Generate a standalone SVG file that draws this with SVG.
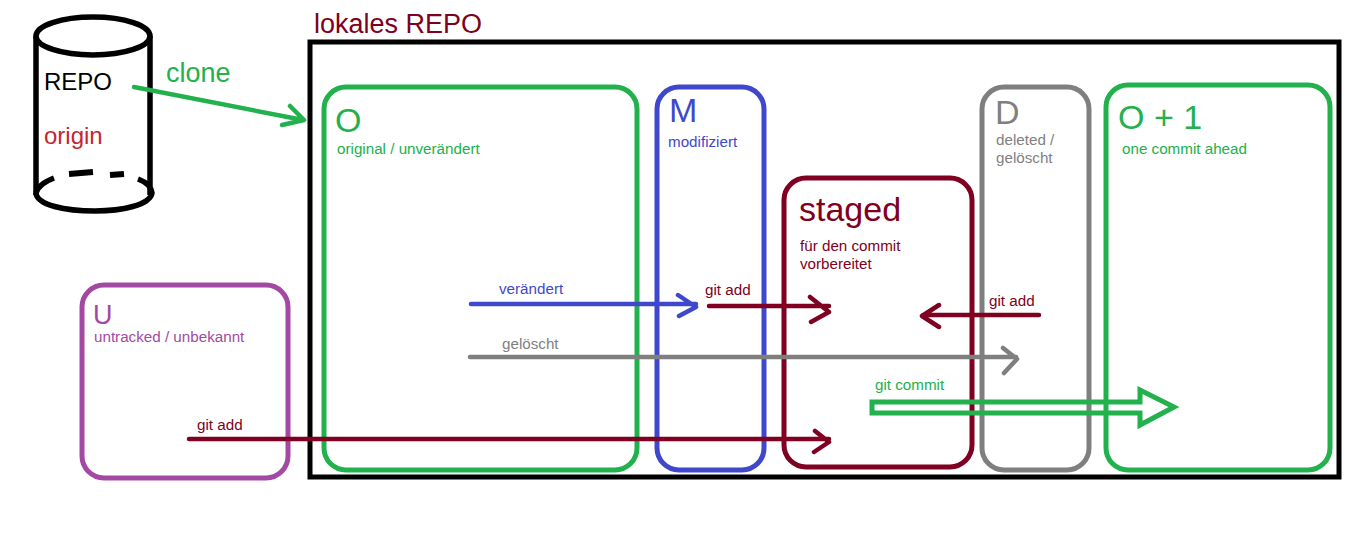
<svg xmlns="http://www.w3.org/2000/svg" width="1351" height="545" viewBox="0 0 1351 545">
<style>
text{font-family:"Liberation Sans",Arial,sans-serif}
.b{fill:none;stroke-width:5}
.c{fill:none;stroke-width:4.5;stroke-linecap:round;stroke-linejoin:round}
.g{fill:#22b14c}
.bl{fill:#3f48cc}
.r{fill:#7f0020}
.gr{fill:#7f7f7f}
.big{font-size:34px}
.s{font-size:15.2px}
</style>
<rect width="1351" height="545" fill="#fff"/>
<g id="repo-origin">
<g fill="none" stroke="#000" stroke-width="5.5">
<ellipse cx="93" cy="36" rx="57" ry="19"/>
<path d="M36 36V195M150 36V195"/>
<path d="M36 193C38 186 46 181 54 178M138 179C146 182 151 186 152 193C150 205 122 211 95 211C65 211 37 205 36 193"/>
<path d="M69 174L93 172M110 175L124 174" stroke-width="6"/>
</g>
<text x="44" y="90" font-size="24" fill="#000">REPO</text>
<text x="44" y="144" font-size="24" fill="#c4262e">origin</text>
</g>
<g id="local-repo">
<rect x="310" y="42" width="1029" height="435" fill="none" stroke="#000" stroke-width="5"/>
<text x="314" y="33" font-size="27" class="r">lokales REPO</text>
</g>
<g id="node-o">
<rect x="324" y="87" width="313" height="383" rx="22" class="b" stroke="#22b14c"/>
<text x="335" y="132" class="big g">O</text>
<text x="337" y="154" class="s g">original / unverändert</text>
</g>
<g id="node-m">
<rect x="657" y="87" width="107" height="383" rx="22" class="b" stroke="#3f48cc"/>
<text x="669" y="122" class="big bl">M</text>
<text x="668" y="147" class="s bl">modifiziert</text>
</g>
<g id="node-staged">
<rect x="784" y="178" width="188" height="289" rx="22" class="b" stroke="#7f0020"/>
<text x="799" y="221" class="big r">staged</text>
<text x="800" y="251" class="s r">für den commit</text>
<text x="800" y="269" class="s r">vorbereitet</text>
</g>
<g id="node-d">
<rect x="982" y="87" width="107" height="383" rx="22" class="b" stroke="#7f7f7f"/>
<text x="995" y="124" class="big gr">D</text>
<text x="996" y="145" class="s gr">deleted /</text>
<text x="996" y="163" class="s gr">gelöscht</text>
</g>
<g id="node-o1">
<rect x="1106" y="85" width="224" height="385" rx="22" class="b" stroke="#22b14c"/>
<text x="1118" y="129" class="big g">O + 1</text>
<text x="1122" y="154" class="s g">one commit ahead</text>
</g>
<g id="node-u">
<rect x="82" y="285" width="206" height="193" rx="22" class="b" stroke="#a349a4"/>
<text x="93" y="324" font-size="27" fill="#a349a4">U</text>
<text x="94" y="342" class="s" fill="#a349a4">untracked / unbekannt</text>
</g>
<g id="connectors">
<path class="c" stroke="#22b14c" d="M134 87L303 120M290 106L304 120L282 125"/>
<path class="c" stroke="#3f48cc" d="M471 304H696M678 295L696 307L679 316"/>
<path class="c" stroke="#7f0020" d="M709 306H829M810 297L829 312L811 322"/>
<path class="c" stroke="#7f0020" d="M1039 315H923M939 305L922 316L939 327"/>
<path class="c" stroke="#7f7f7f" d="M470 357H1016M1003 348L1017 359L1004 373"/>
<path class="c" stroke="#7f0020" d="M189 439H829M815 431L829 442L814 452"/>
<path d="M872 402H1140V390L1174 407L1140 425V413H872Z" fill="none" stroke="#22b14c" stroke-width="5"/>
</g>
<g id="labels">
<text x="166" y="82" font-size="27" class="g">clone</text>
<text x="499" y="294" class="s bl">verändert</text>
<text x="705" y="295" class="s r">git add</text>
<text x="989" y="306" class="s r">git add</text>
<text x="502" y="349" class="s gr">gelöscht</text>
<text x="875" y="390" class="s g">git commit</text>
<text x="197" y="430" class="s r">git add</text>
</g>
</svg>
